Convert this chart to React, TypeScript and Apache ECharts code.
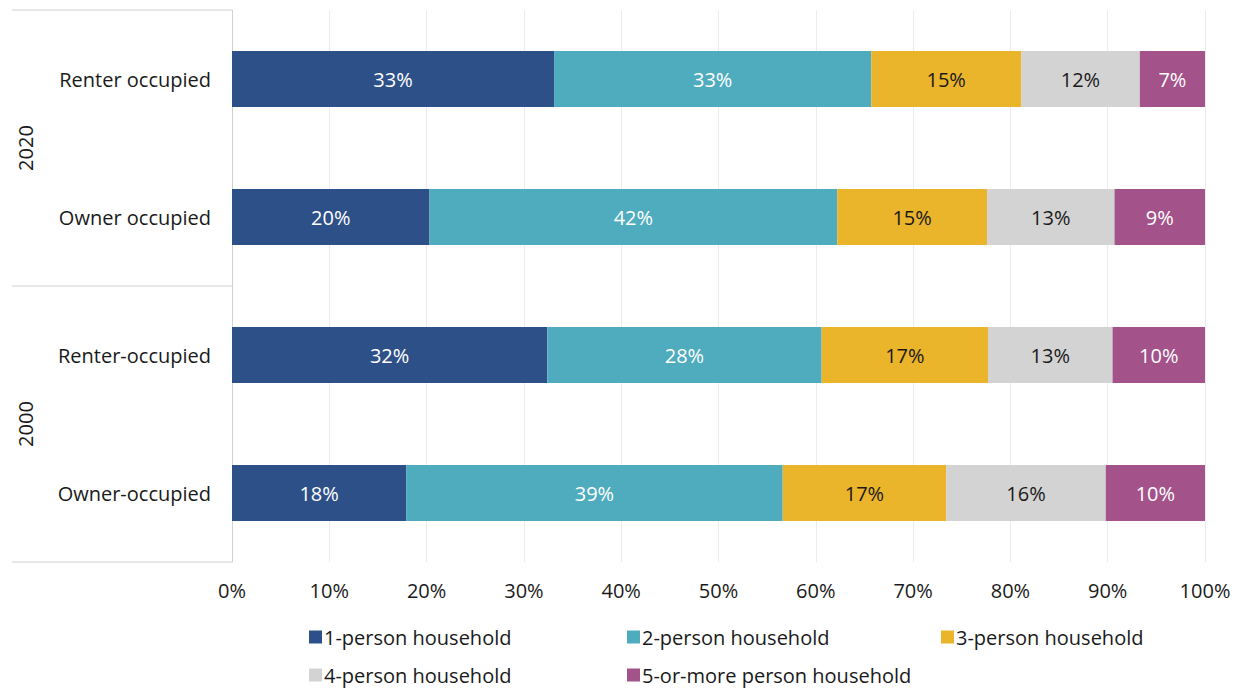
import React, { useEffect, useRef } from "react";
import * as echarts from "echarts";

const categories = ["Renter occupied", "Owner occupied", "Renter-occupied", "Owner-occupied"];
const groupLabels = ["2020", "2000"];
const seriesNames = [
  "1-person household",
  "2-person household",
  "3-person household",
  "4-person household",
  "5-or-more person household",
];
const onePerson = [33.1, 20.3, 32.4, 17.9];
const twoPerson = [32.6, 41.9, 28.2, 38.7];
const threePerson = [15.4, 15.4, 17.1, 16.8];
const fourPerson = [12.2, 13.1, 12.8, 16.4];
const fivePlus = [6.7, 9.3, 9.5, 10.2];
const tickLabels = ["0%", "10%", "20%", "30%", "40%", "50%", "60%", "70%", "80%", "90%", "100%"];

const colors = ["#2E5089", "#4FACBE", "#EAB42B", "#D3D3D3", "#A3528A"];
const labelColors = ["#ffffff", "#ffffff", "#1a1a1a", "#1a1a1a", "#ffffff"];
const FONT = "'Open Sans', 'Liberation Sans', Arial, sans-serif";
const FS = 20;

export default function App() {
  const ref = useRef<HTMLDivElement>(null);
  useEffect(() => {
    if (!ref.current) return;
    const chart = echarts.init(ref.current, undefined, { renderer: "svg" });
    const values = [onePerson, twoPerson, threePerson, fourPerson, fivePlus];
    const gridLeft = 232;
    const gridTop = 10;
    const gridBottomY = 562;
    const midY = (gridTop + gridBottomY) / 2;
    const lineStyle = { stroke: "#d0d0d0", lineWidth: 1 };
    const legendPos = [
      [309, 627],
      [627, 627],
      [941, 627],
      [309, 665],
      [627, 665],
    ];
    chart.setOption({
      animation: false,
      textStyle: { fontFamily: FONT },
      grid: { left: gridLeft, right: 37, top: gridTop, bottom: 688 - gridBottomY, containLabel: false },
      xAxis: {
        type: "value",
        min: 0,
        max: 100,
        interval: 10,
        axisLine: { show: false },
        axisTick: { show: false },
        splitLine: { show: true, lineStyle: { color: "#ececec", width: 1 } },
        axisLabel: {
          margin: 18,
          fontSize: FS,
          color: "#1a1a1a",
          fontFamily: FONT,
          formatter: (v: number) => tickLabels[Math.round(v / 10)],
        },
      },
      yAxis: {
        type: "category",
        inverse: true,
        data: categories,
        axisLine: { show: true, lineStyle: { color: "#d0d0d0", width: 1 } },
        axisTick: { show: false },
        axisLabel: { margin: 21, fontSize: FS, color: "#1a1a1a", fontFamily: FONT },
      },
      legend: seriesNames.map((name, i) => ({
        data: [name],
        left: legendPos[i][0],
        top: legendPos[i][1],
        padding: 0,
        itemWidth: 13,
        itemHeight: 13,
        icon: "rect",
        textStyle: { fontSize: FS, color: "#1a1a1a", fontFamily: FONT, padding: [0, 0, 0, -3] },
        selectedMode: false,
      })),
      series: seriesNames.map((name, i) => ({
        name,
        type: "bar",
        stack: "total",
        barWidth: 56,
        data: values[i],
        itemStyle: { color: colors[i] },
        label: {
          show: true,
          position: "inside",
          fontSize: FS,
          color: labelColors[i],
          fontFamily: FONT,
          formatter: (p: any) => `${Math.round(p.value)}%`,
        },
      })),
      graphic: [
        { type: "line", shape: { x1: 12, y1: gridTop, x2: gridLeft, y2: gridTop }, style: lineStyle },
        { type: "line", shape: { x1: 12, y1: midY, x2: gridLeft, y2: midY }, style: lineStyle },
        { type: "line", shape: { x1: 12, y1: gridBottomY, x2: gridLeft, y2: gridBottomY }, style: lineStyle },
        {
          type: "text",
          x: 25,
          y: (gridTop + midY) / 2,
          rotation: Math.PI / 2,
          style: { text: groupLabels[0], fontSize: FS, fill: "#1a1a1a", fontFamily: FONT, align: "center", verticalAlign: "middle" },
        },
        {
          type: "text",
          x: 25,
          y: (midY + gridBottomY) / 2,
          rotation: Math.PI / 2,
          style: { text: groupLabels[1], fontSize: FS, fill: "#1a1a1a", fontFamily: FONT, align: "center", verticalAlign: "middle" },
        },
      ],
    });
    return () => chart.dispose();
  }, []);
  return <div ref={ref} style={{ width: 1242, height: 688, position: "absolute", left: 0, top: 0 }} />;
}
